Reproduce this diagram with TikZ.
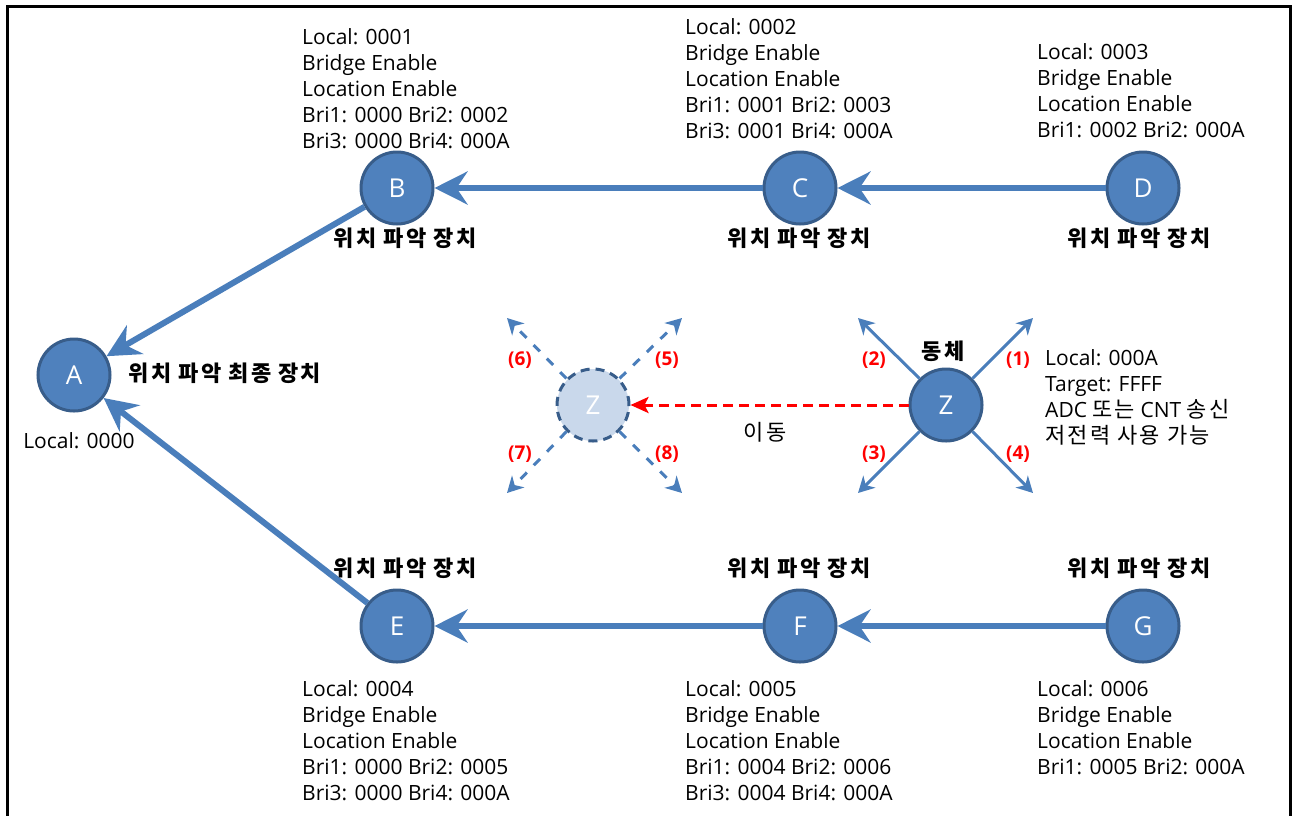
\documentclass[tikz,border=0pt]{standalone}
\usepackage{fontspec}
\setmainfont{Open Sans}
\newfontfamily\kr[LetterSpace=10]{Noto Sans CJK KR}
\usetikzlibrary{arrows.meta}
\definecolor{nodeblue}{HTML}{4F81BD}
\definecolor{nodeedge}{HTML}{385D8A}
\definecolor{ghostfill}{HTML}{C9D8EB}
\definecolor{lineblue}{HTML}{4A7EBB}
\tikzset{
  dev/.style={circle, fill=nodeblue, draw=nodeedge, line width=3pt, minimum size=72pt, inner sep=0pt, text=white, font=\fontsize{26}{30}\selectfont},
  ghost/.style={circle, fill=ghostfill, draw=nodeedge, line width=3pt, dash pattern=on 9pt off 6pt, minimum size=72pt, inner sep=0pt, text=white, font=\fontsize{26}{30}\selectfont},
  bigarrow/.style={draw=lineblue, line width=6pt, -{Stealth[length=33pt,width=33pt,inset=11pt]}},
  dirarrow/.style={draw=lineblue, line width=3pt, -{Stealth[length=16pt,width=17pt,inset=5pt]}},
  dirdash/.style={dirarrow, dash pattern=on 9pt off 10pt},
  info/.style={anchor=west, align=left, inner sep=0pt, font=\fontsize{21}{26}\selectfont},
  devlabel/.style={inner sep=0pt, font=\fontsize{22}{26}\selectfont\kr\bfseries},
  num/.style={inner sep=0pt, text=red, font=\fontsize{19}{22}\selectfont\bfseries},
}
\begin{document}
\begin{tikzpicture}[x=1pt,y=-1pt]
\useasboundingbox (0,0) rectangle (1295,815);
\draw[line width=3pt] (7,816) -- (7,6) -- (1290,6) -- (1290,816);

\node[dev] (A) at (74,375) {A};
\node[dev] (B) at (397,188) {B};
\node[dev] (C) at (800,188) {C};
\node[dev] (D) at (1143,188) {D};
\node[dev] (E) at (397,626) {E};
\node[dev] (F) at (800,626) {F};
\node[dev] (G) at (1143,626) {G};
\node[dev] (Z) at (946,405) {Z};
\node[ghost] (Zg) at (593,405) {Z};

\draw[bigarrow] (C) -- (B);
\draw[bigarrow] (D) -- (C);
\draw[bigarrow] (F) -- (E);
\draw[bigarrow] (G) -- (F);
\draw[bigarrow] (B) -- (A);
\draw[bigarrow] (E) -- (A);

% labels
\node[devlabel] (lB) at (405,238) {위치 파악 장치};
\node[devlabel] (lC) at (799,238) {위치 파악 장치};
\node[devlabel] (lD) at (1139,238) {위치 파악 장치};
\node[devlabel] (lE) at (405,568) {위치 파악 장치};
\node[devlabel] (lF) at (799,568) {위치 파악 장치};
\node[devlabel] (lG) at (1139,568) {위치 파악 장치};
\node[devlabel] (lA) at (225,373) {위치 파악 최종 장치};
\node[info, anchor=center] (iA) at (79,441) {Local: 0000};

\node[info] (iB) at (302,88.5) {Local: 0001\\Bridge Enable\\Location Enable\\Bri1: 0000 Bri2: 0002\\Bri3: 0000 Bri4: 000A};
\node[info] (iC) at (685,79) {Local: 0002\\Bridge Enable\\Location Enable\\Bri1: 0001 Bri2: 0003\\Bri3: 0001 Bri4: 000A};
\node[info] (iD) at (1037,91) {Local: 0003\\Bridge Enable\\Location Enable\\Bri1: 0002 Bri2: 000A};
\node[info] (iE) at (302,741) {Local: 0004\\Bridge Enable\\Location Enable\\Bri1: 0000 Bri2: 0005\\Bri3: 0000 Bri4: 000A};
\node[info] (iF) at (685,741) {Local: 0005\\Bridge Enable\\Location Enable\\Bri1: 0004 Bri2: 0006\\Bri3: 0004 Bri4: 000A};
\node[info] (iG) at (1037,728) {Local: 0006\\Bridge Enable\\Location Enable\\Bri1: 0005 Bri2: 000A};
\node[info] (iZ) at (1045,397) {Local: 000A\\Target: FFFF\\ADC {\fontsize{22}{26}\selectfont\kr 또는} CNT {\fontsize{22}{26}\selectfont\kr 송신}\\{\fontsize{22}{26}\selectfont\kr 저전력 사용 가능}};

% Z directions
\coordinate (z1) at (1033,318);
\coordinate (z2) at (858,318);
\coordinate (z3) at (858,493);
\coordinate (z4) at (1033,493);
\draw[dirarrow] (Z.45) -- (z1);
\draw[dirarrow] (Z.135) -- (z2);
\draw[dirarrow] (Z.225) -- (z3);
\draw[dirarrow] (Z.315) -- (z4);
\node[num] (n1) at (1018,360) {(1)};
\node[num] (n2) at (874,360) {(2)};
\node[num] (n3) at (874,454) {(3)};
\node[num] (n4) at (1018,454) {(4)};
\node[devlabel] (body) at (943,351) {동체};

% ghost directions
\coordinate (g5) at (682,318);
\coordinate (g6) at (507,318);
\coordinate (g7) at (507,493);
\coordinate (g8) at (682,493);
\draw[dirdash] (Zg.45) -- (g5);
\draw[dirdash] (Zg.135) -- (g6);
\draw[dirdash] (Zg.225) -- (g7);
\draw[dirdash] (Zg.315) -- (g8);
\node[num] (n5) at (667,360) {(5)};
\node[num] (n6) at (520,360) {(6)};
\node[num] (n7) at (520,454) {(7)};
\node[num] (n8) at (667,454) {(8)};

% move
\draw[red, line width=3pt, dash pattern=on 10pt off 6pt, -{Stealth[length=18pt,width=16pt,inset=4pt]}] (Z) -- (Zg);
\node[info, anchor=center, font=\fontsize{22}{26}\selectfont\kr] (mv) at (765,432) {이동};
\end{tikzpicture}
\end{document}
